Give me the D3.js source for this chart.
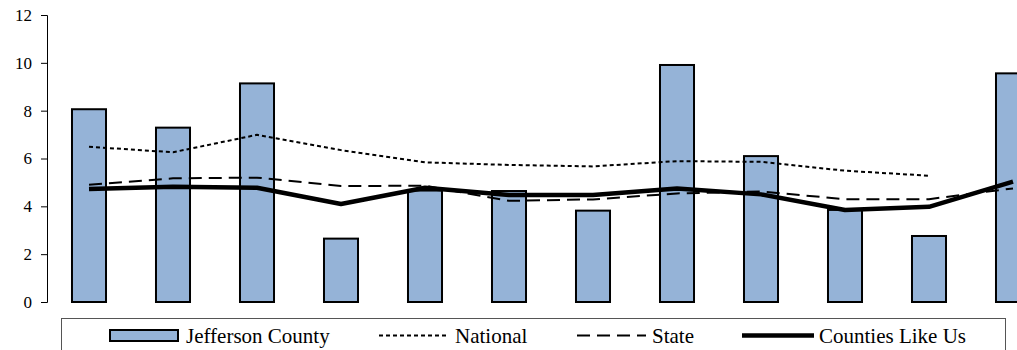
<!DOCTYPE html>
<html>
<head>
<meta charset="utf-8">
<script src="https://cdn.jsdelivr.net/npm/d3@7"></script>
<style>
  body { margin: 0; background: #fff; }
  svg { display: block; }
</style>
</head>
<body>
<div id="chart"></div>
<script>
const categories = ["1", "2", "3", "4", "5", "6", "7", "8", "9", "10", "11", "12"];
const jefferson = [8.06, 7.29, 9.14, 2.65, 4.66, 4.64, 3.82, 9.91, 6.1, 3.85, 2.76, 9.56];
const national = [6.49, 6.26, 6.99, 6.35, 5.84, 5.73, 5.67, 5.89, 5.86, 5.49, 5.28, null];
const state = [4.9, 5.17, 5.2, 4.85, 4.86, 4.23, 4.29, 4.54, 4.62, 4.3, 4.3, 4.75];
const countiesLikeUs = [4.72, 4.82, 4.78, 4.1, 4.78, 4.47, 4.47, 4.75, 4.5, 3.85, 3.98, 5.03];
const yTicks = [0, 2, 4, 6, 8, 10, 12];

const FONT = "Liberation Serif";
const W = 1017, H = 350;
const LEFT = 47, TOP = 15, BOTTOM_Y = 302;

const svg = d3.select("#chart").append("svg")
  .attr("width", W)
  .attr("height", H)
  .attr("font-family", FONT);

const x = d3.scaleBand()
  .domain(categories)
  .range([LEFT, LEFT + 84 * 12])
  .paddingInner(0.595)
  .paddingOuter(0.2975);

const y = d3.scaleLinear()
  .domain([0, 12])
  .range([BOTTOM_Y, TOP]);

// y axis
const yAxis = svg.append("g")
  .attr("transform", `translate(${LEFT},0)`)
  .call(d3.axisLeft(y).tickValues(yTicks).tickSize(6).tickPadding(9));
yAxis.attr("font-family", FONT).attr("font-size", 17);
yAxis.select(".domain").attr("stroke", "#000").attr("stroke-width", 1);
yAxis.selectAll(".tick line").attr("stroke", "#000");
yAxis.selectAll(".tick text")
  .attr("font-family", FONT)
  .attr("font-size", 17)
  .attr("fill", "#000");

// bars
svg.append("g").selectAll("rect")
  .data(jefferson)
  .join("rect")
  .attr("x", (d, i) => x(categories[i]))
  .attr("y", d => y(d))
  .attr("width", x.bandwidth())
  .attr("height", d => y(0) - y(d))
  .attr("fill", "#95b3d7")
  .attr("stroke", "#000")
  .attr("stroke-width", 2);

const cx = i => x(categories[i]) + x.bandwidth() / 2;
const line = d3.line()
  .defined(d => d != null)
  .x((d, i) => cx(i))
  .y(d => y(d));

const series = [
  { name: "National", data: national, width: 2, dash: "4,3" },
  { name: "State", data: state, width: 2, dash: "13,7" },
  { name: "Counties Like Us", data: countiesLikeUs, width: 4.5, dash: null }
];

series.forEach(s => {
  svg.append("path")
    .datum(s.data)
    .attr("d", line)
    .attr("fill", "none")
    .attr("stroke", "#000")
    .attr("stroke-width", s.width)
    .attr("stroke-dasharray", s.dash)
    .attr("stroke-linejoin", "round");
});

// legend
const legend = svg.append("g");
legend.append("rect")
  .attr("x", 61.5).attr("y", 318.5)
  .attr("width", 944).attr("height", 45)
  .attr("fill", "#fff")
  .attr("stroke", "#555")
  .attr("stroke-width", 1);

legend.append("rect")
  .attr("x", 110).attr("y", 330)
  .attr("width", 68).attr("height", 11)
  .attr("fill", "#95b3d7")
  .attr("stroke", "#000")
  .attr("stroke-width", 2);

const legendItems = [
  { label: "Jefferson County", tx: 186 },
  { label: "National", tx: 455, x0: 379, x1: 447, s: series[0] },
  { label: "State", tx: 652, x0: 577, x1: 646, s: series[1] },
  { label: "Counties Like Us", tx: 819, x0: 742, x1: 814, s: series[2] }
];

legendItems.forEach(it => {
  if (it.s) {
    legend.append("line")
      .attr("x1", it.x0).attr("x2", it.x1)
      .attr("y1", 335.5).attr("y2", 335.5)
      .attr("stroke", "#000")
      .attr("stroke-width", it.s.width)
      .attr("stroke-dasharray", it.s.dash);
  }
  legend.append("text")
    .attr("x", it.tx).attr("y", 342.5)
    .attr("font-family", FONT)
    .attr("font-size", 21)
    .attr("fill", "#000")
    .text(it.label);
});
</script>
</body>
</html>
